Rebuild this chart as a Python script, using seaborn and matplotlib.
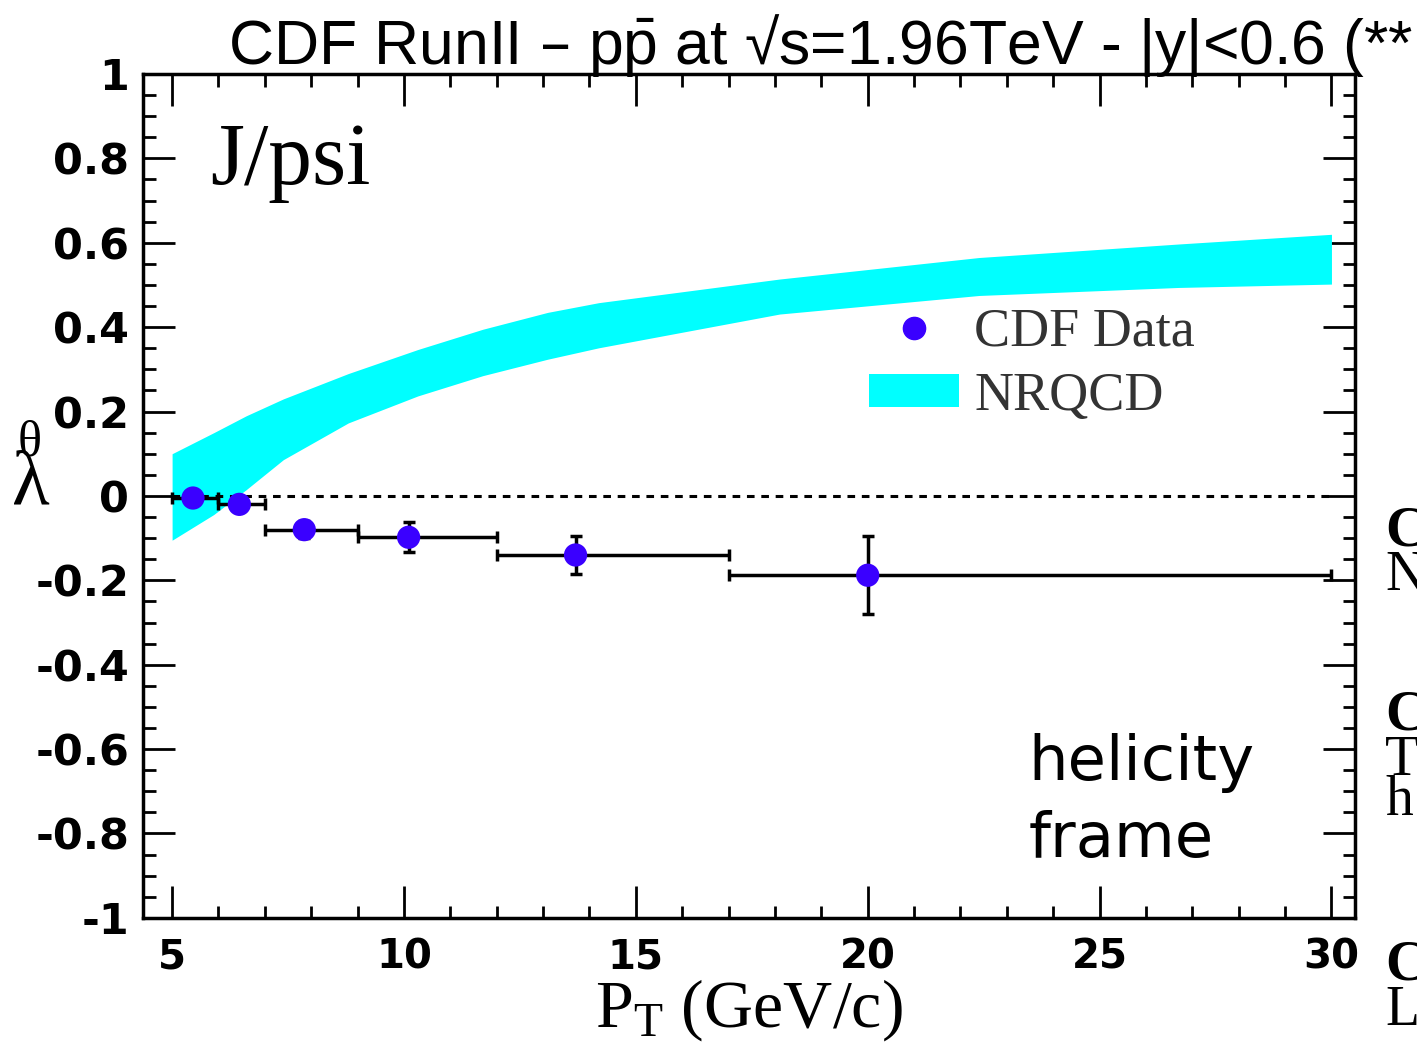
import numpy as np
import pandas as pd
import matplotlib.pyplot as plt
import seaborn as sb
from matplotlib.lines import Line2D
from matplotlib.patches import Patch
from matplotlib.ticker import MultipleLocator

# CDF data: J/psi polarization, helicity frame, |y|<0.6
pt_center = [5.45, 6.45, 7.85, 10.1, 13.7, 20.0]
pt_low = [5, 6, 7, 9, 12, 17]
pt_high = [6, 7, 9, 12, 17, 30]
lam = [-0.005, -0.02, -0.08, -0.098, -0.14, -0.188]
lam_err = [0.015, 0.015, 0.02, 0.035, 0.044, 0.093]

# NRQCD prediction band
band_pt = [5, 5.9, 6.6, 7.4, 8.8, 10.3, 11.7, 13.1, 14.2, 18.1, 22.4, 26.7, 30]
band_hi = [0.10, 0.15, 0.19, 0.23, 0.29, 0.347, 0.395, 0.435, 0.458, 0.514, 0.565, 0.597, 0.62]
band_lo = [-0.105, -0.044, 0.015, 0.086, 0.173, 0.237, 0.285, 0.324, 0.351, 0.431, 0.475, 0.494, 0.502]

x_ticks = [5, 10, 15, 20, 25, 30]
y_ticks = [1, 0.8, 0.6, 0.4, 0.2, 0, -0.2, -0.4, -0.6, -0.8, -1]
y_tick_labels = ['1', '0.8', '0.6', '0.4', '0.2', '0', '-0.2', '-0.4', '-0.6', '-0.8', '-1']

title = 'CDF RunII \u2013 p$\\mathregular{\\bar{p}}$ at \u221as=1.96TeV - |y|<0.6 (**'

df = pd.DataFrame({'pt': pt_center, 'lam': lam, 'err': lam_err,
                   'lo': pt_low, 'hi': pt_high})
df['xerr_lo'] = df['pt'] - df['lo']
df['xerr_hi'] = df['hi'] - df['pt']

sb.set_theme(style='ticks')
plt.rcParams['font.family'] = ['DejaVu Sans']
plt.rcParams['axes.unicode_minus'] = False
for key in ['text.color', 'axes.labelcolor', 'xtick.color', 'ytick.color', 'axes.edgecolor']:
    plt.rcParams[key] = 'black'

fig = plt.figure(figsize=(14.17, 10.49), dpi=100)
ax = fig.add_axes([0.101, 0.125, 0.855, 0.8045])

point_color = '#3a00ff'
band_color = '#00ffff'

# NRQCD band
ax.fill_between(band_pt, band_lo, band_hi, color=band_color, lw=0, zorder=1)

# zero line
ax.hlines(0, 5, 30, colors='black', linestyles=(0, (2.5, 2.2)), lw=2.2, zorder=2)

# data with bin widths and errors
ax.errorbar(df['pt'], df['lam'], xerr=[df['xerr_lo'], df['xerr_hi']], yerr=df['err'],
            fmt='none', ecolor='black', elinewidth=2.5, capsize=4, capthick=2.5, zorder=3)
sb.scatterplot(data=df, x='pt', y='lam', color=point_color, s=280, edgecolor='none',
               ax=ax, zorder=4, legend=False)

ax.set_xlim(4.375, 30.5)
ax.set_ylim(-1.0, 1.0)
ax.set_xticks(x_ticks)
ax.set_xticklabels([str(t) for t in x_ticks], fontweight='bold')
ax.set_yticks(y_ticks)
ax.set_yticklabels(y_tick_labels, fontweight='bold')
ax.xaxis.set_minor_locator(MultipleLocator(1))
ax.yaxis.set_minor_locator(MultipleLocator(0.05))
ax.tick_params(which='both', direction='in', top=True, right=True)
ax.tick_params(which='major', length=23, width=2)
ax.tick_params(axis='x', which='major', labelsize=29, pad=14)
ax.tick_params(axis='y', which='major', labelsize=31, pad=10)
ax.tick_params(which='minor', length=9, width=2)
for sp in ax.spines.values():
    sp.set_linewidth(2.5)

ax.set_xlabel('P$\\mathregular{_T}$ (GeV/c)', fontsize=49, family='Liberation Serif', labelpad=0)

# y label: upright theta over lambda
ax.set_ylabel('\u03bb', fontsize=56, family='Liberation Serif', rotation=0, va='center', ha='center')
ax.yaxis.set_label_coords(-0.093, 0.512)
ax.text(-0.094, 0.562, '\u03b8', transform=ax.transAxes, fontsize=36,
        family='Liberation Serif', ha='center', va='center')

# legend
handles = [Line2D([], [], marker='o', ls='none', color=point_color, markersize=16),
           Patch(facecolor=band_color, edgecolor='none')]
leg = ax.legend(handles, ['CDF Data', 'NRQCD'], loc='upper left', bbox_to_anchor=(0.563, 0.775),
                frameon=False, prop={'family': 'Liberation Serif', 'size': 39},
                handlelength=1.67, handleheight=0.55, handletextpad=0.28, labelspacing=0.25,
                borderpad=0.3)
for t in leg.get_texts():
    t.set_color('#333333')

ax.text(5.82, 0.739, 'J/psi', fontsize=63, family='Liberation Serif', va='baseline')
ax.text(23.47, -0.855, 'helicity\nframe', fontsize=45, family='DejaVu Sans',
        va='baseline', linespacing=1.35)

fig.text(228 / 1417, 1 - 64 / 1049, title, fontsize=45, family='Liberation Sans',
         va='baseline')

# fragments of slide text cut at the right edge
for letter, ypx, bold in [('C', 545, True), ('N', 590, False), ('C', 730, True),
                          ('T', 775, False), ('h', 815, False), ('C', 980, True),
                          ('L', 1025, False)]:
    fig.text(1385 / 1417, 1 - ypx / 1049, letter, fontsize=40, family='Liberation Serif',
             fontweight='bold' if bold else 'normal', va='baseline')

fig.savefig('out.png', dpi=100)
